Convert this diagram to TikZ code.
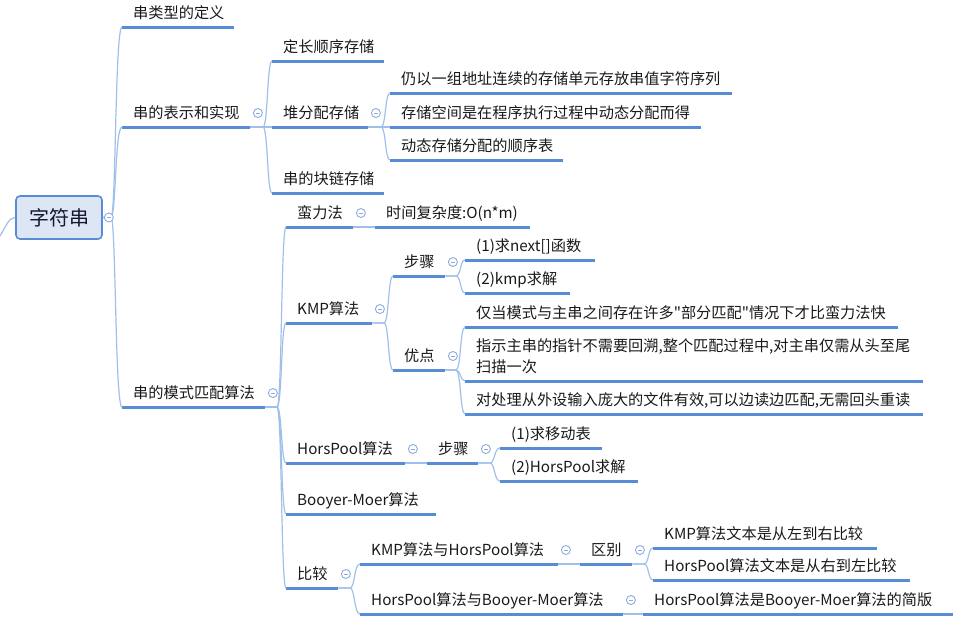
\documentclass[tikz,border=0pt]{standalone}
\usepackage{fontspec}
\setmainfont{Noto Sans CJK SC}[Ligatures=TeXOff]
\usetikzlibrary{calc}
\definecolor{ulc}{RGB}{88,140,212}
\definecolor{thinc}{RGB}{160,192,234}
\definecolor{foldc}{RGB}{140,172,222}
\definecolor{txtc}{RGB}{25,25,25}
\definecolor{rootfill}{RGB}{220,230,244}
\newcommand{\tfont}{\fontsize{15.2}{21}\selectfont}
\newcommand{\branch}[3]{\draw[conn] let \p1=(#1), \p2=(#2.south west) in (\p1) -- (#3pt-4pt,\y1) .. controls (#3pt+1pt,\y1) and (#3pt,\y2) .. (\p2);}
\newcommand{\fold}[2]{\node[foldbox] (#1) at ($(#2.south east)+(7.5,-14)$) {};}
\tikzset{
  topic/.style={anchor=south west, inner xsep=11pt, inner ysep=4.5pt, text height=11pt, text depth=4pt,
    align=left, font=\tfont, text=txtc, text width=#1pt-22pt,
    execute at begin node={\exhyphenpenalty=10000 \hyphenpenalty=10000},
    append after command={(\tikzlastnode.south west) edge[uline] (\tikzlastnode.south east)}},
  uline/.style={draw=ulc, line width=3pt},
  conn/.style={draw=thinc, line width=1.2pt},
  foldbox/.style={circle, draw=foldc, fill=white, minimum size=9pt, inner sep=0pt, line width=0.9pt,
    path picture={\draw[foldc, line width=0.9pt] ($(path picture bounding box.west)+(2.3pt,0)$) -- ($(path picture bounding box.east)-(2.3pt,0)$);}},
  rootbox/.style={draw=ulc, fill=rootfill, line width=1.6pt, rounded corners=4pt, minimum width=86pt, minimum height=43pt,
    font=\fontsize{20}{24}\selectfont, text=txtc!90!blue, inner sep=0pt}
}
\begin{document}
\begin{tikzpicture}[x=1pt,y=-1pt]
\useasboundingbox (0,0) rectangle (971,625);
% root
\coordinate (lc) at (0,236);
\node[rootbox] (r) at (59,217.5) {字符串};
\draw[conn] (lc) .. controls (7,224) and (9,218) .. (r.west);
% level 1
\node[topic=112] (b1) at (122,27) {串类型的定义};
\node[topic=128] (b2) at (122,127) {串的表示和实现};
\node[topic=143] (b3) at (122,407) {串的模式匹配算法};
% storage
\node[topic=112] (c1) at (272,61) {定长顺序存储};
\node[topic=96] (c2) at (272,127) {堆分配存储};
\node[topic=112] (c3) at (272,193) {串的块链存储};
\node[topic=342] (d1) at (390,93) {仍以一组地址连续的存储单元存放串值字符序列};
\node[topic=311] (d2) at (390,127) {存储空间是在程序执行过程中动态分配而得};
\node[topic=173] (d3) at (390,160) {动态存储分配的顺序表};
% pattern matching
\node[topic=67] (e1) at (286,227) {蛮力法};
\node[topic=155] (e1a) at (375,227) {时间复杂度:O(n*m)};
\node[topic=86] (e2) at (286,323) {KMP算法};
\node[topic=52] (k1) at (393,276) {步骤};
\node[topic=52] (k2) at (393,370) {优点};
\node[topic=130] (k1a) at (465,260) {(1)求next[]函数};
\node[topic=105] (k1b) at (465,293) {(2)kmp求解};
\node[topic=433] (k2a) at (465,327) {仅当模式与主串之间存在许多"部分匹配"情况下才比蛮力法快};
\node[topic=458, text depth=25pt] (k2b) at (465,381) {指示主串的指针不需要回溯,整个匹配过程中,对主串仅需从头至尾\\扫描一次};
\node[topic=458] (k2c) at (465,414) {对处理从外设输入庞大的文件有效,可以边读边匹配,无需回头重读};
\node[topic=119] (e3) at (286,463) {HorsPool算法};
\node[topic=51] (h1) at (427,463) {步骤};
\node[topic=102] (h1a) at (500,448) {(1)求移动表};
\node[topic=138] (h1b) at (500,481) {(2)HorsPool求解};
\node[topic=150] (e4) at (286,514) {Booyer-Moer算法};
\node[topic=52] (e5) at (286,588) {比较};
\node[topic=198] (m1) at (360,564) {KMP算法与HorsPool算法};
\node[topic=52] (m1a) at (580,564) {区别};
\node[topic=224] (m1a1) at (653,548) {KMP算法文本是从左到右比较};
\node[topic=257] (m1a2) at (653,580) {HorsPool算法文本是从右到左比较};
\node[topic=263] (m2) at (360,614) {HorsPool算法与Booyer-Moer算法};
\node[topic=310] (m2a) at (643,614) {HorsPool算法是Booyer-Moer算法的简版};
% connectors
\branch{r.east}{b1}{115}
\branch{r.east}{b2}{115}
\branch{r.east}{b3}{115}
\branch{b2.south east}{c1}{267}
\branch{b2.south east}{c2}{267}
\branch{b2.south east}{c3}{267}
\branch{c2.south east}{d1}{385}
\branch{c2.south east}{d2}{385}
\branch{c2.south east}{d3}{385}
\branch{b3.south east}{e1}{281}
\branch{b3.south east}{e2}{281}
\branch{b3.south east}{e3}{281}
\branch{b3.south east}{e4}{281}
\branch{b3.south east}{e5}{281}
\branch{e1.south east}{e1a}{370}
\branch{e2.south east}{k1}{388}
\branch{e2.south east}{k2}{388}
\branch{k1.south east}{k1a}{460}
\branch{k1.south east}{k1b}{460}
\branch{k2.south east}{k2a}{460}
\branch{k2.south east}{k2b}{460}
\branch{k2.south east}{k2c}{460}
\branch{e3.south east}{h1}{422}
\branch{h1.south east}{h1a}{494}
\branch{h1.south east}{h1b}{494}
\branch{e5.south east}{m1}{354}
\branch{e5.south east}{m2}{354}
\branch{m1.south east}{m1a}{575}
\branch{m1a.south east}{m1a1}{648}
\branch{m1a.south east}{m1a2}{648}
\branch{m2.south east}{m2a}{638}
% fold markers
\node[foldbox] (f0) at ($(r.east)+(6,0)$) {};
\fold{f1}{b2}
\fold{f2}{b3}
\fold{f3}{c2}
\fold{f4}{e1}
\fold{f5}{e2}
\fold{f6}{k1}
\fold{f7}{k2}
\fold{f8}{e3}
\fold{f9}{h1}
\fold{f10}{e5}
\fold{f11}{m1}
\fold{f12}{m1a}
\fold{f13}{m2}
\end{tikzpicture}
\end{document}
